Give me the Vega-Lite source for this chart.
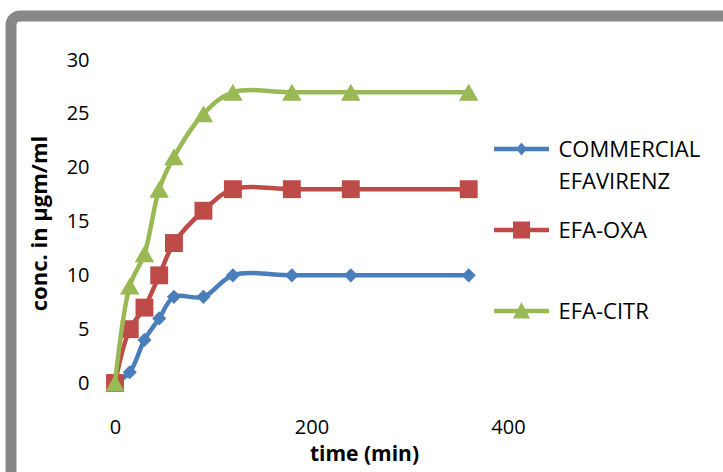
{
  "$schema": "https://vega.github.io/schema/vega-lite/v6.json",
  "width": 722,
  "height": 466,
  "autosize": {"type": "none"},
  "padding": {"left": 11, "top": 16, "right": -10, "bottom": -10},
  "background": "white",
  "config": {
    "view": {"stroke": "#878787", "strokeWidth": 11, "cornerRadius": 9, "fill": "white"},
    "font": "Open Sans"
  },
  "data": {
    "values": [
      {"t": 0, "c": 0, "series": "COMMERCIAL EFAVIRENZ"},
      {"t": 15, "c": 1, "series": "COMMERCIAL EFAVIRENZ"},
      {"t": 30, "c": 4, "series": "COMMERCIAL EFAVIRENZ"},
      {"t": 45, "c": 6, "series": "COMMERCIAL EFAVIRENZ"},
      {"t": 60, "c": 8, "series": "COMMERCIAL EFAVIRENZ"},
      {"t": 90, "c": 8, "series": "COMMERCIAL EFAVIRENZ"},
      {"t": 120, "c": 10, "series": "COMMERCIAL EFAVIRENZ"},
      {"t": 180, "c": 10, "series": "COMMERCIAL EFAVIRENZ"},
      {"t": 240, "c": 10, "series": "COMMERCIAL EFAVIRENZ"},
      {"t": 360, "c": 10, "series": "COMMERCIAL EFAVIRENZ"},
      {"t": 0, "c": 0, "series": "EFA-OXA"},
      {"t": 15, "c": 5, "series": "EFA-OXA"},
      {"t": 30, "c": 7, "series": "EFA-OXA"},
      {"t": 45, "c": 10, "series": "EFA-OXA"},
      {"t": 60, "c": 13, "series": "EFA-OXA"},
      {"t": 90, "c": 16, "series": "EFA-OXA"},
      {"t": 120, "c": 18, "series": "EFA-OXA"},
      {"t": 180, "c": 18, "series": "EFA-OXA"},
      {"t": 240, "c": 18, "series": "EFA-OXA"},
      {"t": 360, "c": 18, "series": "EFA-OXA"},
      {"t": 0, "c": 0, "series": "EFA-CITR"},
      {"t": 15, "c": 9, "series": "EFA-CITR"},
      {"t": 30, "c": 12, "series": "EFA-CITR"},
      {"t": 45, "c": 18, "series": "EFA-CITR"},
      {"t": 60, "c": 21, "series": "EFA-CITR"},
      {"t": 90, "c": 25, "series": "EFA-CITR"},
      {"t": 120, "c": 27, "series": "EFA-CITR"},
      {"t": 180, "c": 27, "series": "EFA-CITR"},
      {"t": 240, "c": 27, "series": "EFA-CITR"},
      {"t": 360, "c": 27, "series": "EFA-CITR"}
    ]
  },
  "encoding": {
    "x": {
      "field": "t", "type": "quantitative",
      "scale": {"domain": [-105.85, 629.0], "nice": false, "zero": false},
      "axis": {
        "title": "time (min)", "values": [0, 200, 400], "orient": "bottom", "offset": -99,
        "domain": false, "ticks": false, "tickSize": 0, "grid": false,
        "labelPadding": 34, "labelFontSize": 20, "labelColor": "#000", "labelFont": "Open Sans", "labelFlush": false,
        "titleFont": "Open Sans", "titleFontSize": 21, "titleFontWeight": "bold", "titleColor": "#000",
        "titleX": 353, "titleY": 77, "titleBaseline": "alphabetic", "titleAlign": "center"
      }
    },
    "y": {
      "field": "c", "type": "quantitative",
      "scale": {"domain": [-9.195, 34.087], "nice": false, "zero": false},
      "axis": {
        "title": "conc. in µgm/ml", "values": [0, 5, 10, 15, 20, 25, 30], "offset": -104,
        "domain": false, "ticks": false, "tickSize": 0, "grid": false,
        "labelPadding": 26, "labelFontSize": 20, "labelColor": "#000", "labelFont": "Open Sans",
        "titleFont": "Open Sans", "titleFontSize": 22, "titleFontWeight": "bold", "titleColor": "#000",
        "titleX": -69, "titleY": 207, "titleAngle": -90, "titleBaseline": "alphabetic", "titleAlign": "center"
      }
    }
  },
  "layer": [
    {
      "data": {"values": [{}]},
      "mark": {"type": "rule", "color": "#868686", "strokeWidth": 1},
      "encoding": {"x": {"datum": 0}, "y": {"datum": 0}, "y2": {"datum": 30}}
    },
    {
      "data": {"values": [{}]},
      "mark": {"type": "rule", "color": "#868686", "strokeWidth": 1},
      "encoding": {"x": {"datum": 0}, "x2": {"datum": 400}, "y": {"datum": 0}}
    },
    {
      "transform": [{"filter": "datum.series == 'COMMERCIAL EFAVIRENZ'"}],
      "mark": {"type": "line", "color": "#4A7EBB", "strokeWidth": 4.5, "interpolate": "catmull-rom", "strokeCap": "round"}
    },
    {
      "transform": [{"filter": "datum.series == 'COMMERCIAL EFAVIRENZ'"}],
      "mark": {"type": "point", "shape": "diamond", "filled": true, "color": "#4A7EBB", "opacity": 1, "size": 200, "strokeWidth": 0}
    },
    {
      "transform": [{"filter": "datum.series == 'EFA-OXA'"}],
      "mark": {"type": "line", "color": "#BE4B48", "strokeWidth": 4.5, "interpolate": "catmull-rom", "strokeCap": "round"}
    },
    {
      "transform": [{"filter": "datum.series == 'EFA-OXA'"}],
      "mark": {"type": "point", "shape": "square", "filled": true, "color": "#BE4B48", "opacity": 1, "size": 320, "strokeWidth": 0}
    },
    {
      "transform": [{"filter": "datum.series == 'EFA-CITR'"}],
      "mark": {"type": "line", "color": "#98B954", "strokeWidth": 4.5, "interpolate": "catmull-rom", "strokeCap": "round"}
    },
    {
      "transform": [{"filter": "datum.series == 'EFA-CITR'"}],
      "mark": {"type": "point", "shape": "triangle-up", "filled": true, "color": "#98B954", "opacity": 1, "size": 380, "strokeWidth": 0}
    },
    {
      "mark": {"type": "point", "filled": true, "opacity": 0, "size": 10},
      "encoding": {
        "color": {
          "field": "series", "type": "nominal",
          "scale": {"domain": ["COMMERCIAL EFAVIRENZ", "EFA-OXA", "EFA-CITR"], "range": ["#4A7EBB", "#BE4B48", "#98B954"]},
          "legend": {
            "title": null, "orient": "none", "legendX": 499.5, "legendY": 113,
            "symbolSize": 400, "symbolStrokeWidth": 0, "symbolOpacity": 1,
            "labelFontSize": 22, "labelFont": "Open Sans", "labelColor": "#000", "labelOffset": 26,
            "labelBaseline": "top", "labelLimit": 300, "rowPadding": 17, "gridAlign": "all", "padding": 0,
            "labelExpr": "datum.label == 'COMMERCIAL EFAVIRENZ' ? ['COMMERCIAL', 'EFAVIRENZ'] : datum.label",
            "encode": {"labels": {"update": {"lineHeight": {"value": 32}}}}
          }
        },
        "shape": {
          "field": "series", "type": "nominal",
          "scale": {
            "domain": ["COMMERCIAL EFAVIRENZ", "EFA-OXA", "EFA-CITR"],
            "range": [
              "M-2.75,0.68H2.75V1.12H-2.75Z M0,0.25L0.55,0.9L0,1.55L-0.55,0.9Z",
              "M-2.75,0.68H2.75V1.12H-2.75Z M-0.85,0.05H0.85V1.75H-0.85Z",
              "M-2.75,0.68H2.75V1.12H-2.75Z M0,0L0.85,1.65L-0.85,1.65Z"
            ]
          },
          "legend": {
            "title": null, "orient": "none", "legendX": 499.5, "legendY": 113,
            "symbolSize": 400, "symbolStrokeWidth": 0, "symbolOpacity": 1,
            "labelFontSize": 22, "labelFont": "Open Sans", "labelColor": "#000", "labelOffset": 26,
            "labelBaseline": "top", "labelLimit": 300, "rowPadding": 17, "gridAlign": "all", "padding": 0,
            "labelExpr": "datum.label == 'COMMERCIAL EFAVIRENZ' ? ['COMMERCIAL', 'EFAVIRENZ'] : datum.label",
            "encode": {"labels": {"update": {"lineHeight": {"value": 32}}}}
          }
        }
      }
    }
  ]
}
